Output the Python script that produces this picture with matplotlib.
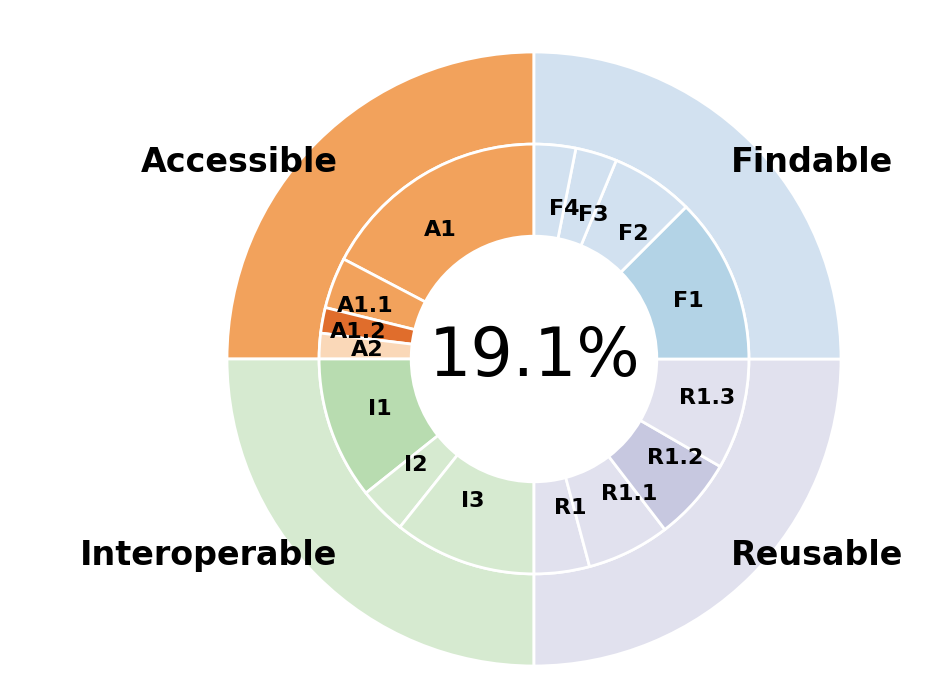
import matplotlib.pyplot as plt

# Outer ring: four FAIR principles (drawn counter-clockwise from 12 o'clock)
principles = ["Accessible", "Interoperable", "Reusable", "Findable"]
principle_colors = ["#f2a25c", "#d6ead0", "#e1e1ee", "#d2e1f0"]

# Inner ring: sub-principles and their weights within each principle
sub_labels = {
    "Accessible": ["A1", "A1.1", "A1.2", "A2"],
    "Interoperable": ["I1", "I2", "I3"],
    "Reusable": ["R1", "R1.1", "R1.2", "R1.3"],
    "Findable": ["F1", "F2", "F3", "F4"],
}
sub_weights = {
    "Accessible": [9, 2, 1, 1],
    "Interoperable": [3, 1, 3],
    "Reusable": [2, 3, 3, 4],
    "Findable": [4, 2, 1, 1],
}
sub_colors = {
    "Accessible": ["#f2a25c", "#f2a25c", "#e06d2c", "#fad8b8"],
    "Interoperable": ["#b8dcb0", "#d6ead0", "#d6ead0"],
    "Reusable": ["#e1e1ee", "#e1e1ee", "#c7c8e0", "#e1e1ee"],
    "Findable": ["#b3d3e6", "#d2e1f0", "#d2e1f0", "#d2e1f0"],
}
overall_score = "19.1%"

# each principle takes a quarter; sub-principles share it by weight
inner_sizes, inner_labels, inner_colors = [], [], []
for p in principles:
    total = sum(sub_weights[p])
    inner_sizes += [w / total for w in sub_weights[p]]
    inner_labels += sub_labels[p]
    inner_colors += sub_colors[p]

fig = plt.figure(figsize=(9.46, 7), dpi=100)
ax = fig.add_axes([0, 0, 1, 1])

wedge = dict(edgecolor="white", linewidth=2)

ax.pie(
    [1] * len(principles),
    radius=1.0,
    colors=principle_colors,
    labels=principles,
    labeldistance=0.905,
    startangle=90,
    wedgeprops=dict(width=0.3, **wedge),
    textprops=dict(fontsize=24, fontweight="bold"),
)

ax.pie(
    inner_sizes,
    radius=0.7,
    colors=inner_colors,
    labels=inner_labels,
    labeldistance=0.7,
    startangle=90,
    wedgeprops=dict(width=0.3, **wedge),
    textprops=dict(fontsize=16, fontweight="bold"),
)

ax.text(0, 0.005, overall_score, ha="center", va="center", fontsize=48)

# keep the pie centre where it sits in the reference
ax.set_xlim(-534 / 307, (946 - 534) / 307)
ax.set_ylim(-341 / 307, 359 / 307)
ax.set_aspect("equal")
ax.axis("off")

plt.savefig("out.png", dpi=100)
plt.close()
